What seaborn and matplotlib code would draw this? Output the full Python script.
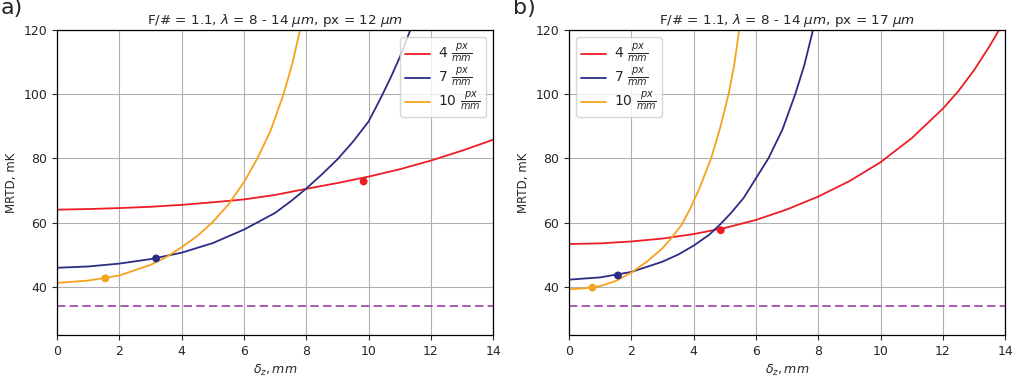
import numpy as np
import matplotlib
matplotlib.use("Agg")
import matplotlib.pyplot as plt
import seaborn as sns
import pandas as pd

# values (delta_z in mm, MRTD in mK)
labels = [r"4 $\frac{px}{mm}$", r"7 $\frac{px}{mm}$", r"10 $\frac{px}{mm}$"]
colors = ["#ee1c25", "#2b2c85", "#f5a21f"]

# panel a) px = 12 um
red_a_x = [0, 1, 2, 3, 4, 5, 6, 7, 8, 9, 10, 11, 12, 13, 14]
red_a_y = [64.0, 64.2, 64.5, 64.9, 65.5, 66.3, 67.2, 68.6, 70.5, 72.3, 74.3, 76.6, 79.3, 82.4, 85.8]
blue_a_x = [0, 1, 2, 3, 4, 5, 6, 7, 7.5, 8, 8.5, 9, 9.5, 10, 10.4, 10.7, 11, 11.34]
blue_a_y = [45.9, 46.3, 47.2, 48.6, 50.6, 53.6, 57.8, 63.0, 66.6, 70.6, 75.0, 79.7, 85.2, 91.5, 99.0,
            105.0, 111.5, 120.0]
orange_a_x = [0, 1, 2, 3, 3.5, 4, 4.5, 5, 5.5, 6, 6.43, 6.85, 7.27, 7.55, 7.8]
orange_a_y = [41.2, 41.9, 43.5, 46.8, 49.2, 52.3, 55.8, 60.2, 65.6, 72.6, 80.0, 88.5, 100.0, 109.5, 120.0]
marker_a_x = [9.84, 3.18, 1.55]
marker_a_y = [72.8, 48.8, 42.6]

# panel b) px = 17 um
red_b_x = [0, 1, 2, 3, 4, 5, 6, 7, 8, 9, 10, 11, 12, 12.5, 13, 13.5, 13.8]
red_b_y = [53.3, 53.5, 54.1, 55.0, 56.4, 58.3, 60.8, 64.1, 68.1, 72.9, 78.8, 86.3, 95.5, 101.0,
           107.5, 115.0, 120.0]
blue_b_x = [0, 1, 2, 3, 3.5, 4, 4.5, 4.85, 5.2, 5.6, 6, 6.4, 6.85, 7.26, 7.55, 7.83]
blue_b_y = [42.2, 42.9, 44.6, 47.8, 50.0, 52.8, 56.2, 59.4, 63.0, 67.6, 73.8, 80.0, 89.0, 100.0,
            109.0, 120.0]
orange_b_x = [0, 0.5, 1, 1.5, 2, 2.5, 3, 3.3, 3.62, 3.9, 4.2, 4.56, 4.85, 5.12, 5.3, 5.46]
orange_b_y = [39.2, 39.5, 40.2, 41.8, 44.4, 47.8, 52.0, 55.3, 59.4, 64.5, 71.0, 80.0, 89.5, 100.0,
              109.0, 120.0]
marker_b_x = [4.87, 1.57, 0.75]
marker_b_y = [57.6, 43.5, 39.7]

limit_mk = 34.0
titles = [r"F/# = 1.1, $\lambda$ = 8 - 14 $\mu m$, px = 12 $\mu m$",
          r"F/# = 1.1, $\lambda$ = 8 - 14 $\mu m$, px = 17 $\mu m$"]
panel_tags = ["a)", "b)"]


def make_frame(xs, ys):
    parts = []
    for lab, x, y in zip(labels, xs, ys):
        parts.append(pd.DataFrame({"dz": x, "mrtd": y, "res": lab}))
    return pd.concat(parts, ignore_index=True)


panels = [
    (make_frame([red_a_x, blue_a_x, orange_a_x], [red_a_y, blue_a_y, orange_a_y]),
     marker_a_x, marker_a_y, "upper right"),
    (make_frame([red_b_x, blue_b_x, orange_b_x], [red_b_y, blue_b_y, orange_b_y]),
     marker_b_x, marker_b_y, "upper left"),
]

sns.set_style("ticks")
plt.rcParams["font.family"] = ["DejaVu Sans"]

fig = plt.figure(figsize=(10.24, 3.84), dpi=100)
lefts = [0.0557, 0.5557]
palette = dict(zip(labels, colors))

for i, (df, mx, my, loc) in enumerate(panels):
    ax = fig.add_axes([lefts[i], 0.128, 0.426, 0.794])
    sns.lineplot(data=df, x="dz", y="mrtd", hue="res", palette=palette,
                 sort=False, estimator=None, linewidth=1.3, ax=ax)
    mdf = pd.DataFrame({"dz": mx, "mrtd": my, "res": labels})
    sns.scatterplot(data=mdf, x="dz", y="mrtd", hue="res", palette=palette,
                    s=32, edgecolor="none", legend=False, ax=ax, zorder=5)
    ax.axhline(limit_mk, color="#9a3fa5", linestyle="--", linewidth=1.2, dashes=(5, 2.6))
    ax.set_xlim(0, 14)
    ax.set_ylim(25, 120)
    ax.set_xticks(np.arange(0, 15, 2))
    ax.set_yticks([40, 60, 80, 100, 120])
    ax.grid(True, color="#b0b0b0", linewidth=0.8)
    ax.tick_params(labelsize=9, length=3.5)
    ax.set_xlabel(r"$\delta_z, mm$", fontsize=9)
    ax.set_ylabel("MRTD, mK", fontsize=8.5)
    ax.set_title(titles[i], fontsize=9.7, pad=4)
    for s in ax.spines.values():
        s.set_color("black")
        s.set_linewidth(0.9)
    leg = ax.legend(loc=loc, fontsize=10, title=None, framealpha=0.8,
                    handlelength=1.8, handletextpad=0.6, labelspacing=0.12,
                    borderpad=0.35)
    for h in leg.get_lines():
        h.set_linewidth(1.3)
    fig.text(lefts[i] - 0.0557 + 0.0005, 1.005, panel_tags[i], fontsize=16,
             ha="left", va="top")

fig.savefig("out.png", dpi=100)
